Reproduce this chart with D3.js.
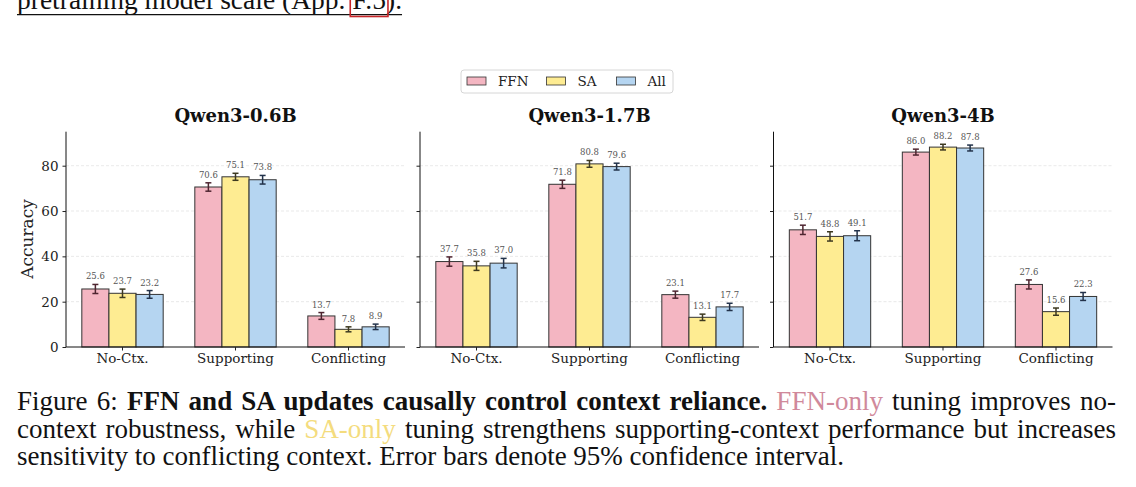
<!DOCTYPE html>
<html>
<head>
<meta charset="utf-8">
<script src="https://cdn.jsdelivr.net/npm/d3@7"></script>
<style>
  html, body { margin: 0; padding: 0; background: #fff; }
  svg { display: block; }
</style>
</head>
<body>
<svg id="chart" width="1136" height="487"></svg>
<script>
// ---------------- data ----------------
const models = ["Qwen3-0.6B", "Qwen3-1.7B", "Qwen3-4B"];
const categories = ["No-Ctx.", "Supporting", "Conflicting"];
const seriesNames = ["FFN", "SA", "All"];
// values per model: [No-Ctx., Supporting, Conflicting]
const ffnValues = [[25.6, 70.6, 13.7], [37.7, 71.8, 23.1], [51.7, 86.0, 27.6]];
const saValues  = [[23.7, 75.1, 7.8],  [35.8, 80.8, 13.1], [48.8, 88.2, 15.6]];
const allValues = [[23.2, 73.8, 8.9],  [37.0, 79.6, 17.7], [49.1, 87.8, 22.3]];
// 95% CI half-widths
const ffnErrors = [[2.0, 1.85, 1.5], [2.05, 1.8, 1.55], [2.05, 1.3, 2.0]];
const saErrors  = [[1.85, 1.55, 1.1], [2.0, 1.5, 1.4], [2.05, 1.25, 1.6]];
const allErrors = [[1.7, 1.9, 1.2], [2.1, 1.5, 1.6], [2.2, 1.3, 1.75]];
const yTicks = [0, 20, 40, 60, 80];
const yDomain = [0, 95];

const seriesValues = [ffnValues, saValues, allValues];
const seriesErrors = [ffnErrors, saErrors, allErrors];
const fillColors = ["#f4b6c2", "#feec92", "#b5d5f1"];
const errColors = ["#4e2530", "#3d3920", "#22324a"];

const svg = d3.select("#chart");
const serif = "'DejaVu Serif', serif";
const times = "'Liberation Serif', 'Times New Roman', serif";

// ---------------- layout ----------------
const panelLefts = [66, 420, 773.5];
const panelWidth = 339;
const plotTop = 131.7, plotBottom = 347;
const y = d3.scaleLinear().domain(yDomain).range([plotBottom, plotTop]);
const barFrac = 0.24;

models.forEach((model, m) => {
  const g = svg.append("g");
  const x = d3.scaleBand().domain(categories)
    .range([panelLefts[m], panelLefts[m] + panelWidth]).padding(0);
  const bw = x.bandwidth() * barFrac;
  const offset = d3.scaleLinear().domain([0, 2]).range([-bw, bw]);

  // grid
  g.selectAll("line.grid").data(yTicks.filter(t => t > 0)).join("line")
    .attr("x1", panelLefts[m]).attr("x2", panelLefts[m] + panelWidth)
    .attr("y1", d => y(d)).attr("y2", d => y(d))
    .attr("stroke", "#e3e3e3").attr("stroke-width", 0.8)
    .attr("stroke-dasharray", "3,2");

  // bars
  seriesNames.forEach((s, si) => {
    const vals = seriesValues[si][m];
    const errs = seriesErrors[si][m];
    const data = categories.map((c, ci) => ({ c, v: vals[ci], e: errs[ci] }));
    const cx = d => x(d.c) + x.bandwidth() / 2 + offset(si);
    g.selectAll("rect.s" + si).data(data).join("rect").attr("class", "s" + si)
      .attr("x", d => cx(d) - bw / 2).attr("width", bw)
      .attr("y", d => y(d.v)).attr("height", d => y(0) - y(d.v))
      .attr("fill", fillColors[si]).attr("stroke", "#333").attr("stroke-width", 1);
    // error bars
    const eg = g.selectAll("g.e" + si).data(data).join("g").attr("class", "e" + si)
      .attr("stroke", errColors[si]).attr("stroke-width", 1.5);
    eg.append("line").attr("x1", cx).attr("x2", cx)
      .attr("y1", d => y(d.v - d.e)).attr("y2", d => y(d.v + d.e));
    eg.append("line").attr("x1", d => cx(d) - 3).attr("x2", d => cx(d) + 3)
      .attr("y1", d => y(d.v - d.e)).attr("y2", d => y(d.v - d.e));
    eg.append("line").attr("x1", d => cx(d) - 3).attr("x2", d => cx(d) + 3)
      .attr("y1", d => y(d.v + d.e)).attr("y2", d => y(d.v + d.e));
    // value labels
    g.selectAll("text.v" + si).data(data).join("text").attr("class", "v" + si)
      .attr("x", cx).attr("y", d => y(d.v + d.e) - 5)
      .attr("text-anchor", "middle")
      .attr("font-family", serif).attr("font-size", 8.5).attr("fill", "#555")
      .text(d => d.v.toFixed(1));
  });

  // axes
  const yAxis = d3.axisLeft(y).tickValues(yTicks).tickSize(3.5).tickPadding(4)
    .tickFormat(m === 0 ? d3.format("d") : () => "");
  const ya = g.append("g").attr("transform", `translate(${panelLefts[m]},0)`).call(yAxis);
  ya.select(".domain").attr("d", `M0,${plotTop}V${plotBottom}`).attr("stroke", "#111").attr("stroke-width", 1);
  ya.selectAll("text").attr("font-family", serif).attr("font-size", 13.5).attr("fill", "#222");
  ya.selectAll(".tick line").attr("stroke", "#222");

  const xAxis = d3.axisBottom(x).tickSize(3.5).tickPadding(3);
  const xa = g.append("g").attr("transform", `translate(0,${plotBottom})`).call(xAxis);
  xa.select(".domain").attr("d", `M${panelLefts[m]},0H${panelLefts[m] + panelWidth}`)
    .attr("stroke", "#111").attr("stroke-width", 1);
  xa.selectAll("text").attr("font-family", serif).attr("font-size", 13.5).attr("fill", "#222");
  xa.selectAll(".tick line").attr("stroke", "#222");

  // title
  g.append("text").attr("x", panelLefts[m] + panelWidth / 2).attr("y", 122)
    .attr("text-anchor", "middle").attr("font-family", serif)
    .attr("font-weight", "bold").attr("font-size", 18).attr("fill", "#111")
    .text(model);
});

// y label
svg.append("text").attr("transform", "translate(33,239) rotate(-90)")
  .attr("text-anchor", "middle").attr("font-family", serif)
  .attr("font-size", 17).attr("fill", "#222").text("Accuracy");

// legend
const legend = svg.append("g");
legend.append("rect").attr("x", 461).attr("y", 70).attr("width", 212).attr("height", 23)
  .attr("rx", 3).attr("fill", "#fff").attr("stroke", "#d6d6d6").attr("stroke-width", 1);
const legX = [467, 546.5, 616.5];
seriesNames.forEach((s, i) => {
  legend.append("rect").attr("x", legX[i]).attr("y", 77).attr("width", 19).attr("height", 8)
    .attr("fill", fillColors[i]).attr("stroke", "#333").attr("stroke-width", 0.8);
  legend.append("text").attr("x", legX[i] + 31).attr("y", 86)
    .attr("font-family", serif).attr("font-size", 13.5).attr("fill", "#222").text(s);
});

// ---------------- surrounding page text ----------------
const topText = svg.append("text").attr("x", 17).attr("y", 8.5)
  .attr("font-family", times).attr("font-size", 27.5).attr("fill", "#111");
topText.append("tspan").text("pretraining model scale (App. ");
topText.append("tspan").text("F.5");
topText.append("tspan").text(").");
const topNode = topText.node();
const topLen = topNode.getComputedTextLength();
svg.append("line").attr("x1", 17).attr("x2", 17 + topLen).attr("y1", 14.7).attr("y2", 14.7)
  .attr("stroke", "#111").attr("stroke-width", 1.2);
const fIdx = "pretraining model scale (App. ".length;
const fStart = topNode.getStartPositionOfChar(fIdx).x;
const fEnd = topNode.getEndPositionOfChar(fIdx + 2).x;
svg.append("rect").attr("x", fStart - 2).attr("y", -3).attr("width", fEnd - fStart + 4).attr("height", 19.5)
  .attr("fill", "none").attr("stroke", "#c8262a").attr("stroke-width", 1.6);

const captionLines = [
  [["Figure 6: ", "normal", "#111"], ["FFN and SA updates causally control context reliance.", "bold", "#111"],
   [" ", "normal", "#111"], ["FFN-only", "normal", "#d0899b"], [" tuning improves no-", "normal", "#111"]],
  [["context robustness, while ", "normal", "#111"], ["SA-only", "normal", "#f4dc7e"],
   [" tuning strengthens supporting-context performance but increases", "normal", "#111"]],
  [["sensitivity to conflicting context. Error bars denote 95% confidence interval.", "normal", "#111"]]
];
const capBaselines = [410, 437.5, 465];
const justify = [true, true, false];
captionLines.forEach((parts, li) => {
  const t = svg.append("text").attr("x", 17).attr("y", capBaselines[li])
    .attr("font-family", times).attr("font-size", 27);
  parts.forEach(p => t.append("tspan").attr("font-weight", p[1]).attr("fill", p[2]).text(p[0]));
  if (justify[li]) {
    const w = t.node().getComputedTextLength();
    const full = parts.map(p => p[0]).join("");
    const nSpaces = (full.match(/ /g) || []).length;
    const extra = (1099 - w) / nSpaces;
    t.attr("word-spacing", extra);
  }
});
</script>
</body>
</html>
